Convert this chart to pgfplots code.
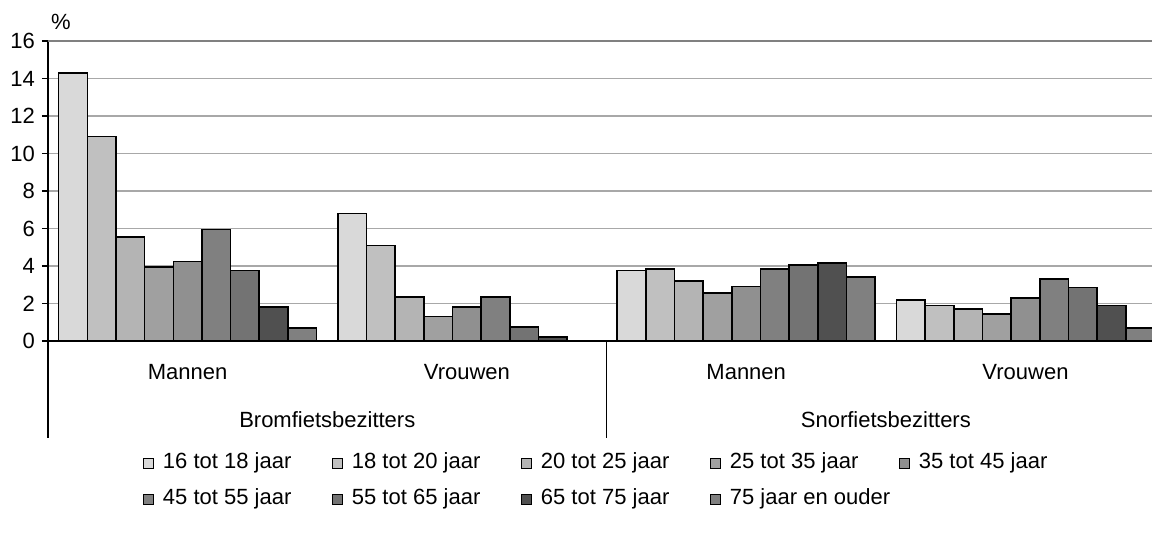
\documentclass[border=0pt]{standalone}
\usepackage{fontspec}
\setmainfont{Liberation Sans}
\usepackage{pgfplots}
\pgfplotsset{compat=1.18}

\definecolor{c1}{HTML}{D9D9D9}
\definecolor{c2}{HTML}{C0C0C0}
\definecolor{c3}{HTML}{B4B4B4}
\definecolor{c4}{HTML}{A0A0A0}
\definecolor{c5}{HTML}{909090}
\definecolor{c6}{HTML}{808080}
\definecolor{c7}{HTML}{737373}
\definecolor{c8}{HTML}{505050}
\definecolor{c9}{HTML}{808080}
\definecolor{gridgray}{HTML}{A8A8A8}

\newcommand{\fs}{\fontsize{11pt}{13pt}\selectfont}
\newcommand{\legtxt}[1]{\makebox[89pt][l]{\hspace{4.5pt}#1}}

\pgfplotsset{
  bars/.style={draw=black, line width=0.8pt,
    legend image code/.code={\draw[##1, line width=0.5pt] (0pt,-2.5pt) rectangle (5pt,2.5pt);}},
}

\begin{document}
\begin{tikzpicture}
\useasboundingbox (0,0) rectangle (576pt,266.5pt);
\begin{axis}[
  at={(24pt,96pt)}, anchor=south west,
  scale only axis, width=552pt, height=150pt,
  xmin=0, xmax=3.953, ymin=0, ymax=16,
  ybar=0pt, bar width=14.33pt,
  axis lines*=left,
  x axis line style={line width=1pt},
  y axis line style={line width=0.75pt},
  clip=false,
  xtick=\empty,
  ytick={0,2,...,16},
  tick align=outside, major tick length=3pt,
  ytick style={black, line width=0.75pt},
  ymajorgrids, grid style={color=gridgray, line width=0.75pt},
  ticklabel style={font=\fs},
  /pgf/number format/assume math mode=true,
  legend style={at={(0.0860,-0.375)}, anchor=north west, draw=none, fill=none,
    inner sep=0pt, outer sep=0pt, font=\fs, row sep=8pt, column sep=0pt,
    nodes={inner sep=0pt, text height=7.5pt, text depth=2.5pt}},
  legend columns=5, legend cell align=left,
]
\addplot[bars, fill=c1] coordinates {(0.5,14.3) (1.5,6.8) (2.5,3.75) (3.5,2.2)};
\addplot[bars, fill=c2] coordinates {(0.5,10.9) (1.5,5.1) (2.5,3.85) (3.5,1.9)};
\addplot[bars, fill=c3] coordinates {(0.5,5.55) (1.5,2.35) (2.5,3.2) (3.5,1.7)};
\addplot[bars, fill=c4] coordinates {(0.5,3.95) (1.5,1.3) (2.5,2.55) (3.5,1.45)};
\addplot[bars, fill=c5] coordinates {(0.5,4.25) (1.5,1.8) (2.5,2.9) (3.5,2.3)};
\addplot[bars, fill=c6] coordinates {(0.5,5.95) (1.5,2.35) (2.5,3.85) (3.5,3.3)};
\addplot[bars, fill=c7] coordinates {(0.5,3.75) (1.5,0.75) (2.5,4.05) (3.5,2.85)};
\addplot[bars, fill=c8] coordinates {(0.5,1.8) (1.5,0.2) (2.5,4.15) (3.5,1.9)};
\addplot[bars, fill=c9] coordinates {(0.5,0.7) (2.5,3.4) (3.5,0.7)};
\addlegendentry{\legtxt{16 tot 18 jaar}}
\addlegendentry{\legtxt{18 tot 20 jaar}}
\addlegendentry{\legtxt{20 tot 25 jaar}}
\addlegendentry{\legtxt{25 tot 35 jaar}}
\addlegendentry{\legtxt{35 tot 45 jaar}}
\addlegendentry{\legtxt{45 tot 55 jaar}}
\addlegendentry{\legtxt{55 tot 65 jaar}}
\addlegendentry{\legtxt{65 tot 75 jaar}}
\addlegendentry{\legtxt{75 jaar en ouder}}

\draw[color=c6, line width=0.9pt] (axis cs:0,16) -- (axis cs:3.953,16);
\draw[black, line width=0.75pt] (axis cs:0,0) -- ++(0,-48.5pt);
\draw[black, line width=0.75pt] (axis cs:2,0) -- ++(0,-48.5pt);
\draw[black, line width=1pt] (axis cs:0,0) -- (axis cs:3.953,0);

\node[font=\fs] at ([yshift=-15.5pt]axis cs:0.5,0) {Mannen};
\node[font=\fs] at ([yshift=-15.5pt]axis cs:1.5,0) {Vrouwen};
\node[font=\fs] at ([yshift=-15.5pt]axis cs:2.5,0) {Mannen};
\node[font=\fs] at ([yshift=-15.5pt]axis cs:3.5,0) {Vrouwen};
\node[font=\fs] at ([yshift=-39.5pt]axis cs:1,0) {Bromfietsbezitters};
\node[font=\fs] at ([yshift=-39.5pt]axis cs:3,0) {Snorfietsbezitters};
\node[font=\fs] at ([xshift=6.5pt, yshift=9.5pt]axis cs:0,16) {\%};
\end{axis}
\end{tikzpicture}
\end{document}
